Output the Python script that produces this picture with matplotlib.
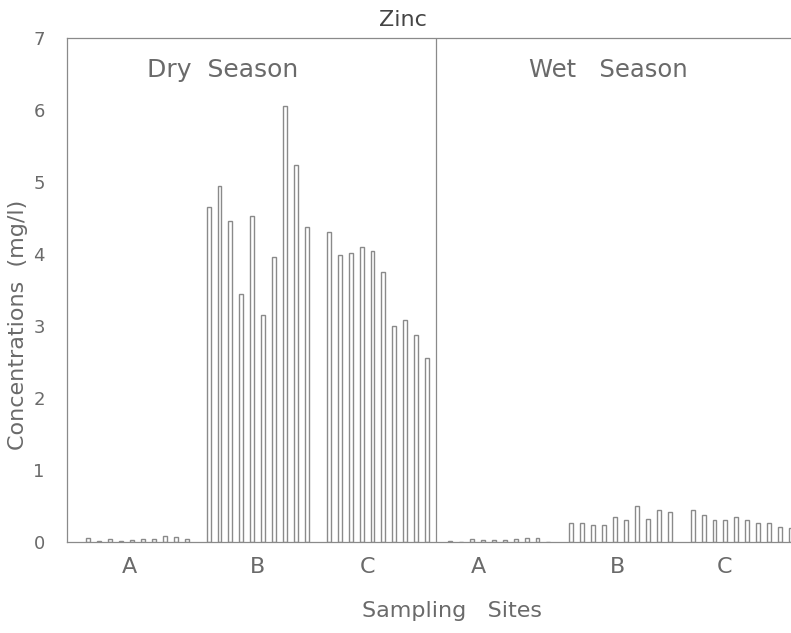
import matplotlib
matplotlib.use("Agg")
import matplotlib.pyplot as plt
import numpy as np

plt.rcParams["font.family"] = ["DejaVu Sans"]

# Zinc concentrations (mg/l), 10 samples per site
dry_a = [0.05, 0.02, 0.04, 0.02, 0.03, 0.04, 0.04, 0.08, 0.07, 0.04]
dry_b = [4.65, 4.94, 4.46, 3.44, 4.53, 3.15, 3.96, 6.06, 5.24, 4.38]
dry_c = [4.31, 3.98, 4.01, 4.10, 4.04, 3.75, 3.00, 3.09, 2.88, 2.55]
wet_a = [0.02, 0.00, 0.04, 0.03, 0.03, 0.03, 0.04, 0.05, 0.05, 0.00]
wet_b = [0.27, 0.27, 0.24, 0.24, 0.35, 0.30, 0.50, 0.32, 0.44, 0.41]
wet_c = [0.44, 0.38, 0.30, 0.30, 0.35, 0.30, 0.27, 0.27, 0.21, 0.19]

site_labels = ["A", "B", "C", "A", "B", "C"]
season_labels = ["Dry  Season", "Wet   Season"]

GRAY = "#8a8a8a"
TEXT = "#6a6a6a"

groups = [dry_a, dry_b, dry_c, wet_a, wet_b, wet_c]
group_start = [0, 11, 22, 33.1, 44.2, 55.3]
label_pos = [3.8, 15.45, 25.5, 35.7, 48.4, 58.2]
divider = 31.8

fig = plt.figure(figsize=(7.91, 6.33), dpi=100)
ax = fig.add_axes([67 / 791, 91 / 633, (803 - 67) / 791, (595 - 91) / 633])

for start, vals in zip(group_start, groups):
    x = start + np.arange(len(vals))
    ax.bar(x, vals, width=0.36, facecolor="white", edgecolor=GRAY, linewidth=1.0)

ax.axvline(divider, color=GRAY, linewidth=0.9)

ax.set_xlim(-1.96, 65.4)
ax.set_ylim(0, 7)
ax.set_yticks(range(8))
ax.tick_params(axis="y", length=0, pad=16, labelsize=13, labelcolor=TEXT)
ax.set_xticks(label_pos)
ax.set_xticklabels(site_labels)
ax.tick_params(axis="x", length=0, pad=11, labelsize=16, labelcolor=TEXT)

for side in ["left", "top", "bottom", "right"]:
    ax.spines[side].set_color(GRAY)
    ax.spines[side].set_linewidth(0.9)

ax.text(12.3, 6.56, season_labels[0], fontsize=18, color=TEXT, ha="center", va="center")
ax.text(47.6, 6.56, season_labels[1], fontsize=17.5, color=TEXT, ha="center", va="center")

fig.text(403 / 791, 1 - 20 / 633, "Zinc", fontsize=16, color="#444444", ha="center", va="center")
fig.text(18 / 791, 1 - 325 / 633, "Concentrations  (mg/l)", fontsize=16, color=TEXT,
         rotation=90, ha="center", va="center")
fig.text(452 / 791, 1 - 611 / 633, "Sampling   Sites", fontsize=16, color=TEXT,
         ha="center", va="center")

fig.savefig("out.png", dpi=100)
